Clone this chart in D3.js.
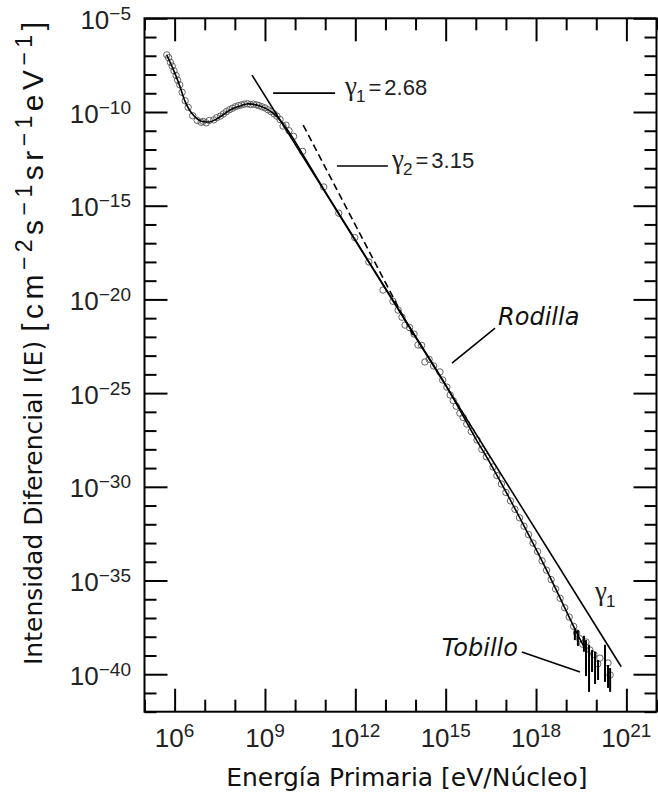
<!DOCTYPE html>
<html><head><meta charset="utf-8">
<script src="https://cdn.jsdelivr.net/npm/d3@7"></script>
<style>body{margin:0;background:#fff}</style>
</head><body>
<svg id="chart" width="658" height="798"></svg>
<script>
// ---------- data (log10 units) ----------
const xMajorExps = [6, 9, 12, 15, 18, 21];
const xMinorExps = [5,6,7,8,9,10,11,12,13,14,15,16,17,18,19,20,21,22];
const yMajorExps = [-5, -10, -15, -20, -25, -30, -35, -40];
const yMinorExps = [-5,-6,-7,-8,-9,-10,-11,-12,-13,-14,-15,-16,-17,-18,-19,-20,-21,-22,-23,-24,-25,-26,-27,-28,-29,-30,-31,-32,-33,-34,-35,-36,-37,-38,-39,-40,-41,-42];

// fitted spectrum curve
const fitLogE = [5.74, 6.01, 6.18, 6.35, 6.57, 6.84, 7.18, 7.51, 7.84, 8.17, 8.39, 8.84, 9.28, 9.61, 9.94, 10.23, 11.0, 12.0, 13.0, 14.0, 15.04, 16.04, 16.57, 18.19, 19.39, 19.6];
const fitLogI = [-6.96, -7.94, -8.65, -9.45, -10.07, -10.46, -10.52, -10.25, -9.89, -9.68, -9.57, -9.68, -10.07, -10.65, -11.42, -12.20, -14.25, -16.83, -19.40, -21.98, -24.68, -27.55, -29.00, -33.93, -37.91, -38.55];

// measured points (circles)
const ptLogE = [5.74,5.80,5.86,5.92,5.98,6.05,6.10,6.17,6.25,6.35,6.45,6.60,6.75,6.88,6.95,7.05,7.15,7.30,7.40,7.52,7.62,7.72,7.82,7.92,8.02,8.12,8.22,8.32,8.42,8.52,8.62,8.72,8.80,8.90,9.00,9.10,9.20,9.30,9.40,9.50,9.60,9.70,9.80,9.95,10.25,10.95,11.45,11.98,12.45,12.92,13.25,13.42,13.55,13.65,13.80,13.95,14.08,14.20,14.31,14.45,14.60,14.81,14.90,15.04,15.15,15.25,15.35,15.47,15.58,15.70,15.85,16.04,16.20,16.35,16.57,16.70,16.85,17.00,17.15,17.30,17.45,17.60,17.75,17.90,18.05,18.20,18.35,18.50,18.65,18.80,18.95,19.10,19.25,19.35,19.45,19.55,19.66,19.79,19.92,20.12,20.39,20.46,20.05];
const ptLogI = [-6.95,-7.10,-7.35,-7.55,-7.80,-8.05,-8.30,-8.55,-8.95,-9.40,-9.75,-10.20,-10.45,-10.55,-10.50,-10.58,-10.45,-10.42,-10.30,-10.22,-10.10,-9.98,-9.88,-9.80,-9.72,-9.66,-9.62,-9.58,-9.56,-9.60,-9.58,-9.62,-9.66,-9.72,-9.78,-9.88,-9.98,-10.10,-10.22,-10.40,-10.75,-10.70,-11.00,-11.30,-12.10,-14.00,-15.40,-16.70,-18.00,-19.50,-20.10,-20.57,-20.95,-21.37,-21.50,-21.85,-22.43,-22.45,-23.34,-23.20,-23.55,-23.87,-24.30,-24.68,-25.10,-25.40,-25.70,-26.07,-26.30,-26.65,-27.05,-27.50,-28.00,-28.40,-28.94,-29.40,-29.85,-30.30,-30.75,-31.20,-31.65,-32.10,-32.55,-33.00,-33.45,-33.95,-34.45,-34.95,-35.45,-35.95,-36.45,-36.95,-37.45,-37.80,-38.10,-38.40,-38.28,-38.71,-38.95,-39.14,-39.40,-40.04,-39.45];

// error bars at the highest energies
const errLogE = [19.29, 19.39, 19.59, 19.66, 19.76, 19.86, 19.96, 20.06, 20.29, 20.39, 20.46];
const errLo   = [-38.18, -38.49, -38.80, -40.10, -40.94, -39.88, -40.52, -40.31, -40.41, -40.73, -40.94];
const errHi   = [-37.55, -37.65, -37.95, -38.18, -38.43, -38.71, -38.81, -39.24, -38.43, -39.51, -39.67];

// reference power laws
const gamma1LogE = [8.57, 20.83];
const gamma1LogI = [-8.03, -39.60];
const gamma2LogE = [10.27, 13.91];
const gamma2LogI = [-10.70, -21.90];

// ---------- scales ----------
const svg = d3.select("#chart");
const L = 144.5, R = 656.5, T = 18.3, B = 711.7;
const x = d3.scaleLog().domain([1e5, 1e22]).range([L, R]);
const y = d3.scaleLog().domain([1e-42, 1e-5]).range([B, T]);
const X = e => x(Math.pow(10, e));
const Y = e => y(Math.pow(10, e));

// ---------- axes ----------
const minorLen = 12, majorLen = 23;
function ax(gen, tx, ty, vals, len) {
  const g = svg.append("g").attr("transform", `translate(${tx},${ty})`)
    .call(gen.tickValues(vals.map(v => Math.pow(10, v))).tickSize(len).tickFormat(""));
  g.select(".domain").remove();
  g.selectAll("line").attr("stroke", "#000").attr("stroke-width", 2);
}
const xMinorOnly = xMinorExps.filter(v => !xMajorExps.includes(v));
const yMinorOnly = yMinorExps.filter(v => !yMajorExps.includes(v));
ax(d3.axisTop(x), 0, B, xMinorOnly, minorLen);
ax(d3.axisTop(x), 0, B, xMajorExps, majorLen);
ax(d3.axisBottom(x), 0, T, xMinorOnly, minorLen);
ax(d3.axisBottom(x), 0, T, xMajorExps, majorLen);
ax(d3.axisRight(y), L, 0, yMinorOnly, minorLen);
ax(d3.axisRight(y), L, 0, yMajorExps, majorLen);
ax(d3.axisLeft(y), R, 0, yMinorOnly, minorLen);
ax(d3.axisLeft(y), R, 0, yMajorExps, majorLen);

svg.append("rect").attr("x", L).attr("y", T).attr("width", R - L).attr("height", B - T)
  .attr("fill", "none").attr("stroke", "#000").attr("stroke-width", 2);

// tick labels
const lblFont = "'Liberation Sans', Arial, sans-serif";
yMajorExps.forEach(e => {
  const t = svg.append("text").attr("x", 131).attr("y", Y(e) + 10.5)
    .attr("text-anchor", "end").attr("font-family", lblFont).attr("fill", "#222");
  t.append("tspan").attr("font-size", 26).text("10");
  t.append("tspan").attr("font-size", 19).attr("dy", -9).text("\u2212" + Math.abs(e));
});
xMajorExps.forEach(e => {
  const t = svg.append("text").attr("x", X(e)).attr("y", 747)
    .attr("text-anchor", "middle").attr("font-family", lblFont).attr("fill", "#222");
  t.append("tspan").attr("font-size", 26).text("10");
  t.append("tspan").attr("font-size", 19).attr("dy", -10).text(String(e));
});

// axis titles
svg.append("text").attr("x", 406.8).attr("y", 786).attr("text-anchor", "middle")
  .attr("font-family", "'DejaVu Sans', sans-serif").attr("font-size", 25).attr("fill", "#111")
  .text("Energía Primaria [eV/Núcleo]");

// y title: descriptive part then units part
const yStart = 665, yEnd = 22;
const yt1 = svg.append("text").attr("transform", `translate(42,${yStart}) rotate(-90)`)
  .attr("text-anchor", "start").attr("fill", "#111")
  .attr("font-family", "'DejaVu Sans', sans-serif").attr("font-size", 25)
  .text("Intensidad Diferencial I(E)");
const len1 = yt1.node().getComputedTextLength();
const unitStart = yStart - len1 - 9;
const yt2 = svg.append("text").attr("transform", `translate(43,${unitStart}) rotate(-90)`)
  .attr("text-anchor", "start").attr("fill", "#111").attr("font-family", lblFont);
const unitParts = [["[cm", "\u22122"], ["s", "\u22121"], ["sr", "\u22121"], ["eV", "\u22121"]];
unitParts.forEach(([b, s], i) => {
  yt2.append("tspan").attr("font-size", 30).attr("dy", i === 0 ? 0 : 11).text(b);
  yt2.append("tspan").attr("font-size", 23).attr("dy", -11).text(s);
});
yt2.append("tspan").attr("font-size", 30).attr("dy", 11).text("]");
yt2.attr("textLength", unitStart - yEnd).attr("lengthAdjust", "spacing");

// ---------- marks ----------
const plot = svg.append("g");
const pts = ptLogE.map((e, i) => [e, ptLogI[i]]);
plot.selectAll("circle.pt").data(pts).join("circle").attr("class", "pt")
  .attr("cx", d => X(d[0])).attr("cy", d => Y(d[1])).attr("r", 3.2)
  .attr("fill", "none").attr("stroke", "#555").attr("stroke-width", 0.9);

const errs = errLogE.map((e, i) => [e, errLo[i], errHi[i]]);
plot.selectAll("line.err").data(errs).join("line").attr("class", "err")
  .attr("x1", d => X(d[0])).attr("x2", d => X(d[0]))
  .attr("y1", d => Y(d[1])).attr("y2", d => Y(d[2]))
  .attr("stroke", "#000").attr("stroke-width", 2);

const line = d3.line().x(d => X(d[0])).y(d => Y(d[1])).curve(d3.curveCatmullRom);
plot.append("path").datum(fitLogE.map((e, i) => [e, fitLogI[i]])).attr("d", line)
  .attr("fill", "none").attr("stroke", "#000").attr("stroke-width", 1.6);

const straight = d3.line().x(d => X(d[0])).y(d => Y(d[1]));
plot.append("path").datum(gamma1LogE.map((e, i) => [e, gamma1LogI[i]])).attr("d", straight)
  .attr("fill", "none").attr("stroke", "#000").attr("stroke-width", 1.6);
plot.append("path").datum(gamma2LogE.map((e, i) => [e, gamma2LogI[i]])).attr("d", straight)
  .attr("fill", "none").attr("stroke", "#000").attr("stroke-width", 1.6).attr("stroke-dasharray", "7,4");

// ---------- annotations ----------
const leaders = [
  [[9.27, -8.99], [11.33, -8.99]],
  [[11.39, -12.88], [13.08, -12.88]],
  [[16.64, -21.53], [15.21, -23.40]],
  [[17.53, -38.82], [19.46, -39.88]]
];
leaders.forEach(l => plot.append("path").datum(l).attr("d", straight)
  .attr("stroke", "#000").attr("stroke-width", 1.6).attr("fill", "none"));

function gammaLabel(e, i, sub, val) {
  const t = svg.append("text").attr("x", X(e)).attr("y", Y(i)).attr("fill", "#222");
  t.append("tspan").attr("font-family", "'Liberation Serif', serif").attr("font-size", 27).text("\u03b3");
  t.append("tspan").attr("font-family", lblFont).attr("font-size", 17).attr("dy", 7).attr("dx", -1).text(sub);
  if (val) {
    t.append("tspan").attr("font-family", lblFont).attr("font-size", 22).attr("dy", -7).attr("dx", 3).text("=");
    t.append("tspan").attr("font-family", lblFont).attr("font-size", 22).attr("dx", 3).text(val);
  }
}
gammaLabel(11.66, -9.10, "1", "2.68");
gammaLabel(13.22, -12.99, "2", "3.15");
gammaLabel(19.96, -36.04, "1", null);

svg.append("text").attr("x", X(16.74)).attr("y", Y(-21.36))
  .attr("font-family", "'DejaVu Sans', sans-serif").attr("font-style", "italic")
  .attr("font-size", 24).attr("fill", "#111").text("Rodilla");
svg.append("text").attr("x", X(17.40)).attr("y", Y(-39.03)).attr("text-anchor", "end")
  .attr("font-family", "'DejaVu Sans', sans-serif").attr("font-style", "italic")
  .attr("font-size", 24).attr("fill", "#111").text("Tobillo");
</script>
</body></html>
